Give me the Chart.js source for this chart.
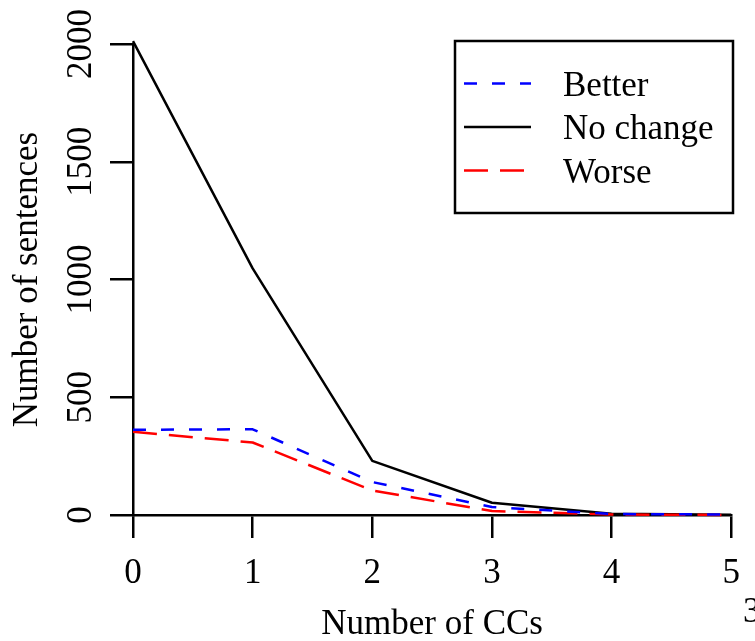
<!DOCTYPE html>
<html>
<head>
<meta charset="utf-8">
<script src="https://cdn.jsdelivr.net/npm/chart.js@4"></script>
<style>
  html, body { margin: 0; padding: 0; background: #fff; }
  #wrap { width: 755px; height: 641px; }
</style>
</head>
<body>
<div id="wrap"><canvas id="myChart" width="755" height="641"></canvas></div>
<script>
const ctx = document.getElementById('myChart');

var xValues = [0, 1, 2, 3, 4, 5];
var betterValues = [362, 364, 140, 34, 4, 2];
var noChangeValues = [2012, 1047, 230, 52, 5, 1];
var worseValues = [353, 308, 104, 17, 2, 0];
var yTicks = [0, 500, 1000, 1500, 2000];
var seriesNames = ["Better", "No change", "Worse"];

var font = "'Liberation Serif', 'Times New Roman', serif";

function pts(vals) {
    return vals.map(function (v, i) { return { x: xValues[i], y: v }; });
}

// R-style rotated y tick labels, boxed legend and the stray page number
const extras = {
    id: 'extras',
    afterDraw: function (chart) {
        const c = chart.ctx;
        const y = chart.scales.y;
        c.save();
        c.fillStyle = '#000';
        c.font = '35px ' + font;
        yTicks.forEach(function (t) {
            c.save();
            c.translate(91, y.getPixelForValue(t));
            c.rotate(-Math.PI / 2);
            c.textAlign = 'center';
            c.textBaseline = 'alphabetic';
            c.fillText(String(t), 0, 0);
            c.restore();
        });

        // legend
        c.lineWidth = 2.5;
        c.strokeStyle = '#000';
        c.strokeRect(455, 41, 278, 172);
        const rows = [83.5, 127, 170.5];
        [0, 1, 2].forEach(function (di, i) {
            const ds = chart.data.datasets[di];
            c.save();
            c.strokeStyle = ds.borderColor;
            c.lineWidth = ds.borderWidth;
            c.setLineDash(ds.borderDash || []);
            c.beginPath();
            c.moveTo(464, rows[i]);
            c.lineTo(531, rows[i]);
            c.stroke();
            c.restore();
            c.textAlign = 'left';
            c.textBaseline = 'alphabetic';
            c.fillText(ds.label, 563, rows[i] + 12);
        });

        c.textAlign = 'left';
        c.fillText('3', 743, 622);
        c.restore();
    }
};

const chart = new Chart(ctx, {
    type: 'line',
    data: {
        datasets: [{
            label: seriesNames[0],
            data: pts(betterValues),
            borderColor: '#0000ff',
            borderWidth: 2.5,
            borderDash: [13, 15],
            order: 0
        }, {
            label: seriesNames[1],
            data: pts(noChangeValues),
            borderColor: '#000000',
            borderWidth: 2.5,
            order: 2
        }, {
            label: seriesNames[2],
            data: pts(worseValues),
            borderColor: '#ff0000',
            borderWidth: 2.5,
            borderDash: [24, 12],
            order: 1
        }]
    },
    options: {
        responsive: false,
        animation: false,
        layout: {
            padding: { left: 0, top: 44, right: 22, bottom: 0 }
        },
        elements: {
            point: { radius: 0 },
            line: { tension: 0, borderJoinStyle: 'round', fill: false }
        },
        datasets: {
            line: { clip: false }
        },
        scales: {
            x: {
                type: 'linear',
                min: 0,
                max: 5,
                afterFit: function (scale) { scale.height = 126; },
                grid: {
                    drawOnChartArea: false,
                    color: '#000',
                    lineWidth: 2.5,
                    tickLength: 23
                },
                border: { display: true, color: '#000', width: 2.5 },
                ticks: {
                    stepSize: 1,
                    padding: 15,
                    color: '#000',
                    maxRotation: 0,
                    font: { family: font, size: 35 }
                },
                title: {
                    display: true,
                    text: 'Number of CCs',
                    color: '#000',
                    font: { family: font, size: 35, lineHeight: 0.9 },
                    padding: { top: 0, bottom: 0 }
                }
            },
            y: {
                min: 0,
                max: 2000,
                afterFit: function (scale) { scale.width = 133; },
                afterBuildTicks: function (scale) {
                    scale.ticks = yTicks.map(function (v) { return { value: v }; });
                },
                grid: {
                    drawOnChartArea: false,
                    color: '#000',
                    lineWidth: 2.5,
                    tickLength: 23
                },
                border: { display: true, color: '#000', width: 2.5 },
                ticks: { display: false },
                title: {
                    display: true,
                    text: 'Number of sentences',
                    color: '#000',
                    font: { family: font, size: 35, lineHeight: 1 },
                    padding: { top: 10, bottom: 0 }
                }
            }
        },
        plugins: {
            legend: { display: false },
            tooltip: { enabled: false }
        }
    },
    plugins: [extras]
});
</script>
</body>
</html>
